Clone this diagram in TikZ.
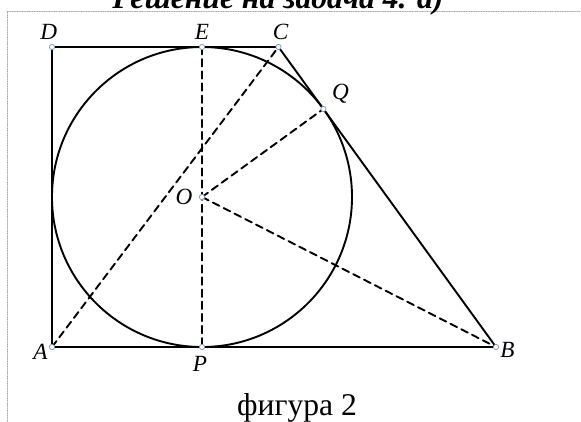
\documentclass[tikz,border=0pt]{standalone}
\usepackage{fontspec}
\setmainfont{Liberation Serif}
\usetikzlibrary{calc,positioning}
\begin{document}
\begin{tikzpicture}[line cap=round, line join=round,
  lbl/.style={font=\fontsize{22}{26}\selectfont\itshape, inner sep=1pt},
  pt/.style={draw=ptblue, fill=white, line width=0.7pt, circle, inner sep=0pt, minimum size=5pt},
  aux/.style={line width=1.8pt, dash pattern=on 7pt off 4.5pt}]
  \definecolor{ptblue}{RGB}{125,150,185}
  \useasboundingbox (-6.733,-7.467) rectangle (12.633,6.567);
  \clip (-6.733,-7.467) rectangle (12.633,6.567);
  \draw[gray!70, densely dotted, line width=0.6pt] (12.7,6.2) -- (-6.5,6.2) -- (-6.5,-7.6);
  \node[font=\fontsize{30}{34}\selectfont\bfseries\itshape, anchor=base] (title) at (2.53,6.3) {Решение на задача 4. а)};
  \coordinate (O) at (0,0);
  \coordinate (A) at (-5,-5);
  \coordinate (P) at (0,-5);
  \coordinate (B) at (9.8,-5);
  \coordinate (C) at (2.55,5);
  \coordinate (E) at (0,5);
  \coordinate (D) at (-5,5);
  \coordinate (Q) at ($(C)!{2.55/12.35}!(B)$);
  \draw[line width=1.8pt] (O) circle (5);
  \draw[line width=1.8pt] (A) -- (B) -- (C) -- (D) -- cycle;
  \draw[aux] (E) -- (P);
  \draw[aux] (A) -- (C);
  \draw[aux] (O) -- (Q);
  \draw[aux] (O) -- (B);
  \foreach \p in {A,B,C,D,E,P,Q,O} \node[pt] at (\p) {};
  \node[lbl, above=6pt of D, xshift=-3pt] (lD) {D};
  \node[lbl, above=6pt of E] (lE) {E};
  \node[lbl, above=6pt of C, xshift=2pt] (lC) {C};
  \node[lbl, above right=4pt and 7pt of Q] (lQ) {Q};
  \node[lbl, left=8pt of O] (lO) {O};
  \node[lbl, left=3pt of A, yshift=-5pt] (lA) {A};
  \node[lbl, below=8pt of P, xshift=-2pt] (lP) {P};
  \node[lbl, right=3pt of B, yshift=-3pt] (lB) {B};
  \node[font=\fontsize{30}{34}\selectfont, anchor=base] (cap) at (3.17,-7.27) {фигура 2};
\end{tikzpicture}
\end{document}
